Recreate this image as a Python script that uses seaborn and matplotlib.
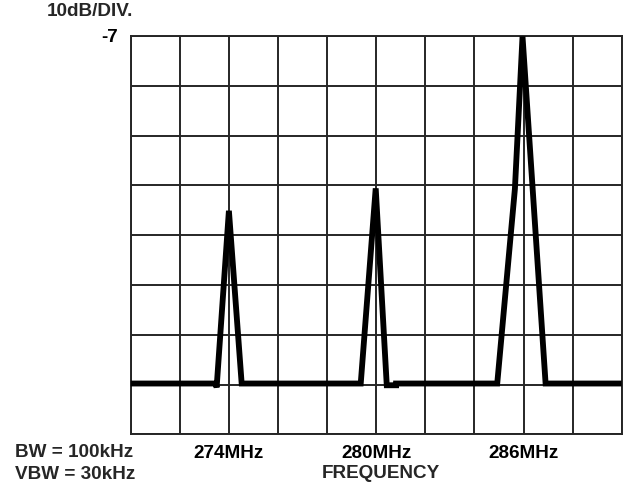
import matplotlib
matplotlib.use("Agg")
import matplotlib.pyplot as plt
import seaborn as sns
import numpy as np
import pandas as pd

# --- data ---
freq_mhz = [270.0, 273.46, 273.50, 274.00, 274.52, 279.37, 279.98, 280.43, 280.81, 280.81,
            284.93, 285.65, 285.96, 286.90, 290.0]
level_dbm = [-76.8, -76.8, -77.6, -42.1, -76.8, -76.8, -37.6, -77.15, -77.15, -76.8,
             -76.8, -37.7, -7.1, -76.8, -76.8]

x_ticks = [270, 272, 274, 276, 278, 280, 282, 284, 286, 288, 290]
x_labels = ["", "", "274MHz", "", "", "280MHz", "", "", "286MHz", "", ""]
y_ticks = [-87, -77, -67, -57, -47, -37, -27, -17, -7]
y_labels = ["", "", "", "", "", "", "", "", "-7"]

df = pd.DataFrame({"freq": freq_mhz, "level": level_dbm})

sns.set_theme(style="white")
plt.rcParams["font.family"] = ["Liberation Sans", "DejaVu Sans"]
plt.rcParams["font.weight"] = "bold"

fig = plt.figure(figsize=(6.26, 4.86), dpi=100)
ax = fig.add_axes([130.7 / 626, 51.7 / 486, 491 / 626, 398.3 / 486])

gridc = "#262626"
fs = 13.6
sns.lineplot(data=df, x="freq", y="level", ax=ax, color="black",
             sort=False, estimator=None, zorder=5)
for ln in ax.lines:
    ln.set_linewidth(4.2)
    ln.set_solid_joinstyle("miter")
    ln.set_solid_capstyle("butt")
    ln.set_clip_on(False)

ax.set_xlim(270, 290)
ax.set_ylim(-87, -7)
ax.set_xticks(x_ticks)
ax.set_xticklabels(x_labels, fontsize=fs, fontweight="bold")
ax.set_yticks(y_ticks)
ax.set_yticklabels(y_labels, fontsize=fs, fontweight="bold")
ax.tick_params(axis="both", length=0, colors="black")
ax.tick_params(axis="x", pad=8)
ax.tick_params(axis="y", pad=9)
ax.grid(True, color=gridc, linewidth=1.4)
for s in ax.spines.values():
    s.set_color(gridc)
    s.set_linewidth(1.4)
ax.set_xlabel("")
ax.set_ylabel("")

fig.text(90 / 626, 1 - 11.7 / 486, "10dB/DIV.", ha="center", va="center",
         fontsize=fs, fontweight="bold")
fig.text(15 / 626, 1 - 452.3 / 486, "BW = 100kHz", ha="left", va="center",
         fontsize=fs, fontweight="bold")
fig.text(15 / 626, 1 - 474.2 / 486, "VBW = 30kHz", ha="left", va="center",
         fontsize=fs, fontweight="bold")
fig.text(380.8 / 626, 1 - 473.7 / 486, "FREQUENCY", ha="center", va="center",
         fontsize=fs, fontweight="bold")

fig.savefig("out.png", dpi=100)
